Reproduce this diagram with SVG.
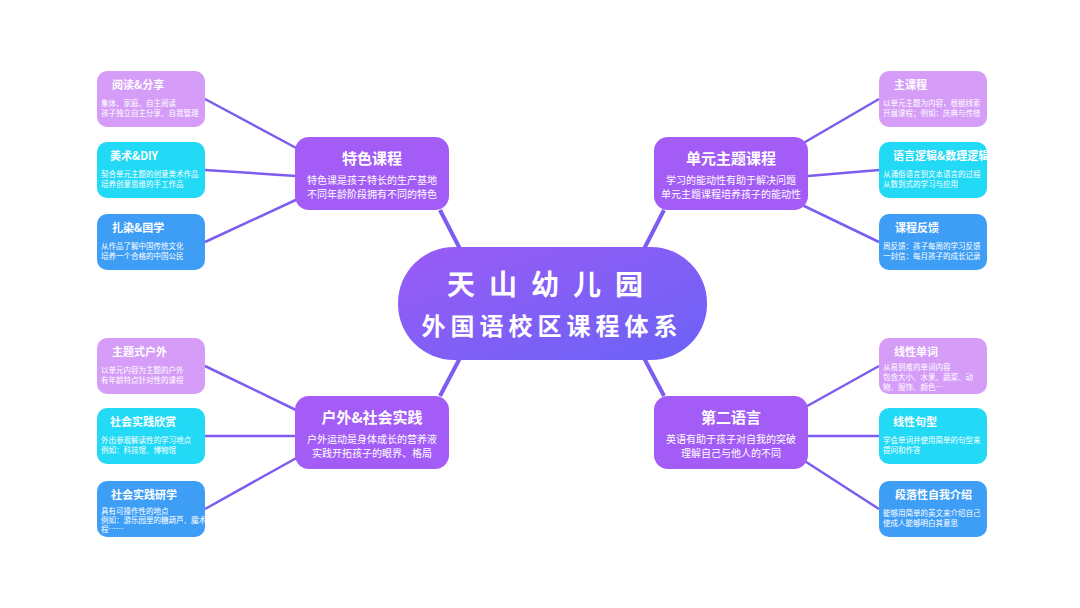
<svg xmlns="http://www.w3.org/2000/svg" width="1080" height="608" viewBox="0 0 1080 608">
<defs>
<linearGradient id="cg" x1="0" y1="0" x2="1" y2="1"><stop offset="0" stop-color="#9a5cf6"/><stop offset="1" stop-color="#6b62f6"/></linearGradient>
<style>
text{font-family:"Noto Sans CJK SC","Noto Sans",sans-serif;fill:#fff}
.l{stroke:#7c5df0;stroke-width:2.5;fill:none}
.lc{stroke:#7c5df0;stroke-width:4;fill:none}
.cat{fill:#a35cf6}
.p{fill:#d59df8}.c{fill:#22d9f6}.b{fill:#3e9ef6}
.t{font-size:11px;font-weight:bold}
.s{font-size:7.5px}
.ct{font-size:15px;font-weight:bold}
.cs{font-size:10px}
</style>
</defs>
<rect width="1080" height="608" fill="#fff"/>
<g id="connectors">
<path class="lc" d="M440 210L460 249M664 210L644 249M440 396L460 358M664 396L644 358"/>
<path class="l" d="M205 99L300 150M205 170L296 176M205 242L300 198M879 99L800 145M879 170L808 176M879 242L800 204M205 366L300 412M205 436L296 436M205 509L300 456M879 366L800 410M879 436L808 436M879 509L800 458"/>
</g>
<g id="center"><rect x="398" y="247" width="309" height="113" rx="56" fill="url(#cg)"/>
<text x="552" y="295" text-anchor="middle" font-size="28" font-weight="bold" letter-spacing="14">天山幼儿园</text>
<text x="552" y="335" text-anchor="middle" font-size="24" font-weight="bold" letter-spacing="5">外国语校区课程体系</text></g>
<g id="cat1"><rect class="cat" x="295" y="137" width="154" height="73" rx="14"/><text class="ct" x="372" y="164" text-anchor="middle">特色课程</text><text class="cs" x="372" y="184" text-anchor="middle">特色课是孩子特长的生产基地</text><text class="cs" x="372" y="198" text-anchor="middle">不同年龄阶段拥有不同的特色</text></g>
<g id="cat2"><rect class="cat" x="654" y="137" width="154" height="73" rx="14"/><text class="ct" x="731" y="164" text-anchor="middle">单元主题课程</text><text class="cs" x="731" y="184" text-anchor="middle">学习的能动性有助于解决问题</text><text class="cs" x="731" y="198" text-anchor="middle">单元主题课程培养孩子的能动性</text></g>
<g id="cat3"><rect class="cat" x="295" y="396" width="154" height="73" rx="14"/><text class="ct" x="372" y="423" text-anchor="middle">户外&amp;社会实践</text><text class="cs" x="372" y="443" text-anchor="middle">户外运动是身体成长的营养液</text><text class="cs" x="372" y="457" text-anchor="middle">实践开拓孩子的眼界、格局</text></g>
<g id="cat4"><rect class="cat" x="654" y="396" width="154" height="73" rx="14"/><text class="ct" x="731" y="423" text-anchor="middle">第二语言</text><text class="cs" x="731" y="443" text-anchor="middle">英语有助于孩子对自我的突破</text><text class="cs" x="731" y="457" text-anchor="middle">理解自己与他人的不同</text></g>
<g id="n1"><rect class="p" x="97" y="71" width="108" height="56" rx="10"/><text class="t" x="112" y="89">阅读&amp;分享</text><text class="s" x="101" y="106">集体、家庭、自主阅读</text><text class="s" x="101" y="116">孩子独立自主分享、自我管理</text></g>
<g id="n2"><rect class="c" x="97" y="142" width="108" height="56" rx="10"/><text class="t" x="110" y="160">美术&amp;DIY</text><text class="s" x="101" y="177">契合单元主题的创意美术作品</text><text class="s" x="101" y="187">培养创意思维的手工作品</text></g>
<g id="n3"><rect class="b" x="97" y="214" width="108" height="56" rx="10"/><text class="t" x="112" y="232">扎染&amp;国学</text><text class="s" x="101" y="249">从作品了解中国传统文化</text><text class="s" x="101" y="259">培养一个合格的中国公民</text></g>
<g id="n4"><rect class="p" x="879" y="71" width="108" height="56" rx="10"/><text class="t" x="894" y="89">主课程</text><text class="s" x="883" y="106">以单元主题为内容，根据线索</text><text class="s" x="883" y="116">开展课程；例如：庆典与传统</text></g>
<g id="n5"><rect class="c" x="879" y="142" width="108" height="56" rx="10"/><text class="t" x="893" y="160">语言逻辑&amp;数理逻辑</text><text class="s" x="883" y="177">从通俗语言到文本语言的过程</text><text class="s" x="883" y="187">从数到式的学习与应用</text></g>
<g id="n6"><rect class="b" x="879" y="214" width="108" height="56" rx="10"/><text class="t" x="895" y="232">课程反馈</text><text class="s" x="883" y="249">周反馈：孩子每周的学习反馈</text><text class="s" x="883" y="259">一封信：每月孩子的成长记录</text></g>
<g id="n7"><rect class="p" x="97" y="338" width="108" height="56" rx="10"/><text class="t" x="112" y="356">主题式户外</text><text class="s" x="101" y="373">以单元内容为主题的户外</text><text class="s" x="101" y="383">有年龄特点针对性的课程</text></g>
<g id="n8"><rect class="c" x="97" y="408" width="108" height="56" rx="10"/><text class="t" x="110" y="426">社会实践欣赏</text><text class="s" x="101" y="443">外出参观解读性的学习地点</text><text class="s" x="101" y="453">例如：科技馆、博物馆</text></g>
<g id="n9"><rect class="b" x="97" y="481" width="108" height="56" rx="10"/><text class="t" x="111" y="499">社会实践研学</text><text class="s" x="101" y="514" font-size="6.5">具有可操作性的地点</text><text class="s" x="101" y="523" font-size="6.5">例如：游乐园里的糖葫芦、魔术课</text><text class="s" x="101" y="532" font-size="6.5">程……</text></g>
<g id="n10"><rect class="p" x="879" y="338" width="108" height="56" rx="10"/><text class="t" x="894" y="356">线性单词</text><text class="s" x="883" y="370">从易到难的单词内容</text><text class="s" x="883" y="380">包含大小、水果、蔬菜、动</text><text class="s" x="883" y="390">物、服饰、颜色…</text></g>
<g id="n11"><rect class="c" x="879" y="408" width="108" height="56" rx="10"/><text class="t" x="893" y="426">线性句型</text><text class="s" x="883" y="443">学会单词并使用简单的句型来</text><text class="s" x="883" y="453">提问和作答</text></g>
<g id="n12"><rect class="b" x="879" y="481" width="108" height="56" rx="10"/><text class="t" x="895" y="499">段落性自我介绍</text><text class="s" x="883" y="516">能够用简单的英文来介绍自己</text><text class="s" x="883" y="526">使成人能够明白其意思</text></g>
</svg>
